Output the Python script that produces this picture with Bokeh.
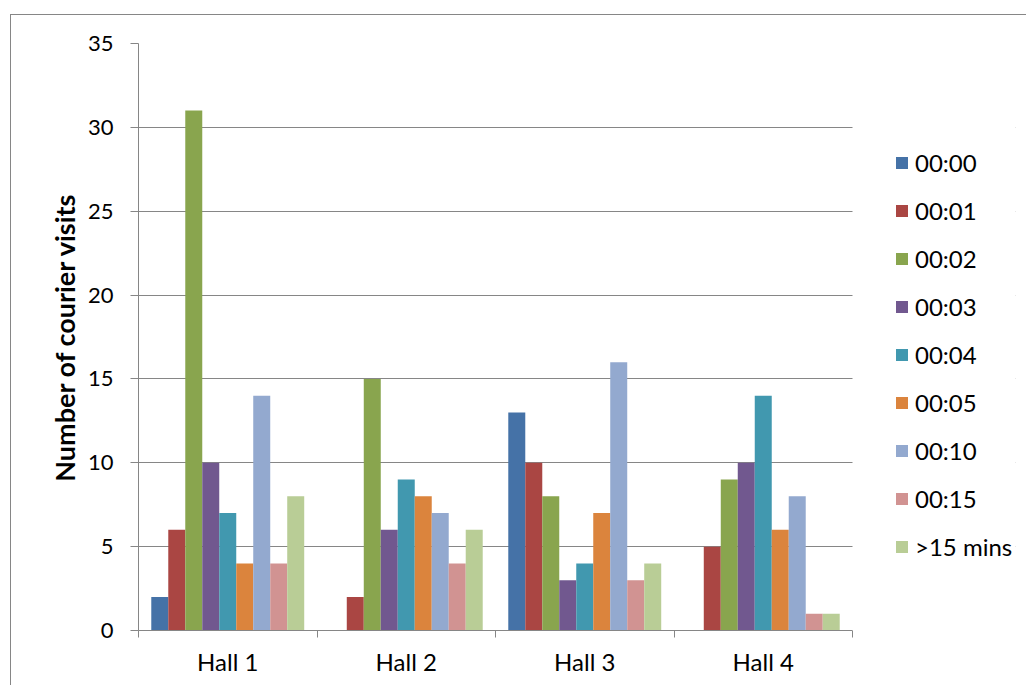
from bokeh.plotting import figure
from bokeh.models import Range1d, FixedTicker, Legend, LegendItem, ColumnDataSource, BoxAnnotation
from bokeh.transform import dodge
from bokeh.embed import file_html
from bokeh.resources import INLINE

halls = ["Hall 1", "Hall 2", "Hall 3", "Hall 4"]
series = ["00:00", "00:01", "00:02", "00:03", "00:04", "00:05", "00:10", "00:15", ">15 mins"]
v_0000 = [2, 0, 13, 0]
v_0001 = [6, 2, 10, 5]
v_0002 = [31, 15, 8, 9]
v_0003 = [10, 6, 3, 10]
v_0004 = [7, 9, 4, 14]
v_0005 = [4, 8, 7, 6]
v_0010 = [14, 7, 16, 8]
v_0015 = [4, 4, 3, 1]
v_gt15 = [8, 6, 4, 1]
values = [v_0000, v_0001, v_0002, v_0003, v_0004, v_0005, v_0010, v_0015, v_gt15]
colors = ["#4572A7", "#AA4643", "#89A54E", "#71588F", "#4198AF",
          "#DB843D", "#93A9CF", "#D19392", "#B9CD96"]
y_ticks = [0, 5, 10, 15, 20, 25, 30, 35]

FONT = "Lato"
GRID = "#868686"

PLOT_W = 714      # width of the bar area in px
FRAME_W = 877     # frame incl. room for the legend on the right
n = len(halls)
x_end = n * FRAME_W / PLOT_W

p = figure(frame_width=FRAME_W, frame_height=587, output_backend="svg", toolbar_location=None,
           x_range=Range1d(0, x_end), y_range=Range1d(0, 35),
           min_border_left=127, min_border_top=28, min_border_right=11,
           min_border_bottom=55)
p.styles = {"border-left": "1px solid #868686", "border-top": "1px solid #868686",
            "margin-left": "10px", "margin-top": "14px"}
p.outline_line_color = None
p.background_fill_color = "white"
p.border_fill_color = "white"

centers = [i + 0.5 for i in range(n)]
src = ColumnDataSource(dict(x=centers, **{f"s{j}": values[j] for j in range(len(series))}))

bw = 0.0952
items = []
for j, name in enumerate(series):
    off = (j - (len(series) - 1) / 2) * bw
    r = p.vbar(x=dodge("x", off, range=p.x_range), top=f"s{j}", width=bw,
               source=src, fill_color=colors[j], line_color=None)
    items.append(LegendItem(label=name, renderers=[r]))

# x axis: labels at group centres, ticks at group boundaries
p.xaxis.ticker = FixedTicker(ticks=centers, minor_ticks=list(range(n + 1)))
p.xaxis.bounds = (0, n)
p.xaxis.major_label_overrides = {c: h for c, h in zip(centers, halls)}
p.xaxis.major_tick_out = 0
p.xaxis.major_tick_in = 0
p.xaxis.minor_tick_out = 7
p.xaxis.minor_tick_in = 0
p.xaxis.axis_line_color = GRID
p.xaxis.minor_tick_line_color = GRID
p.xaxis.major_label_text_font = FONT
p.xaxis.major_label_text_font_size = "24px"
p.xaxis.major_label_text_color = "black"
p.xaxis.major_label_standoff = 9
p.xgrid.grid_line_color = None

p.yaxis.ticker = FixedTicker(ticks=y_ticks)
p.yaxis.axis_line_color = GRID
p.yaxis.major_tick_line_color = GRID
p.yaxis.major_tick_out = 8
p.yaxis.major_tick_in = 0
p.yaxis.minor_tick_line_color = None
p.yaxis.major_label_text_font = FONT
p.yaxis.major_label_text_font_size = "22px"
p.yaxis.major_label_text_color = "black"
p.yaxis.major_label_standoff = 17
p.yaxis.axis_label = "Number of courier visits"
p.yaxis.axis_label_text_font = FONT
p.yaxis.axis_label_text_font_size = "27px"
p.yaxis.axis_label_text_font_style = "bold"
p.yaxis.axis_label_text_color = "black"
p.yaxis.axis_label_standoff = 4
p.ygrid.ticker = FixedTicker(ticks=y_ticks)
p.ygrid.grid_line_color = GRID
p.ygrid.grid_line_width = 1

# blank the legend area to the right of the bar area
p.add_layout(BoxAnnotation(left=n, fill_color="white", fill_alpha=1.0, line_color=None))

legend = Legend(items=items, location=(756, 69.5), orientation="vertical",
                glyph_width=15, glyph_height=15, label_height=20, spacing=19,
                label_standoff=6, padding=0, margin=0,
                border_line_color=None, background_fill_alpha=0,
                label_text_font=FONT, label_text_font_size="24px",
                label_text_color="black")
p.add_layout(legend, "center")

open("out.html", "w").write(file_html(p, INLINE))
